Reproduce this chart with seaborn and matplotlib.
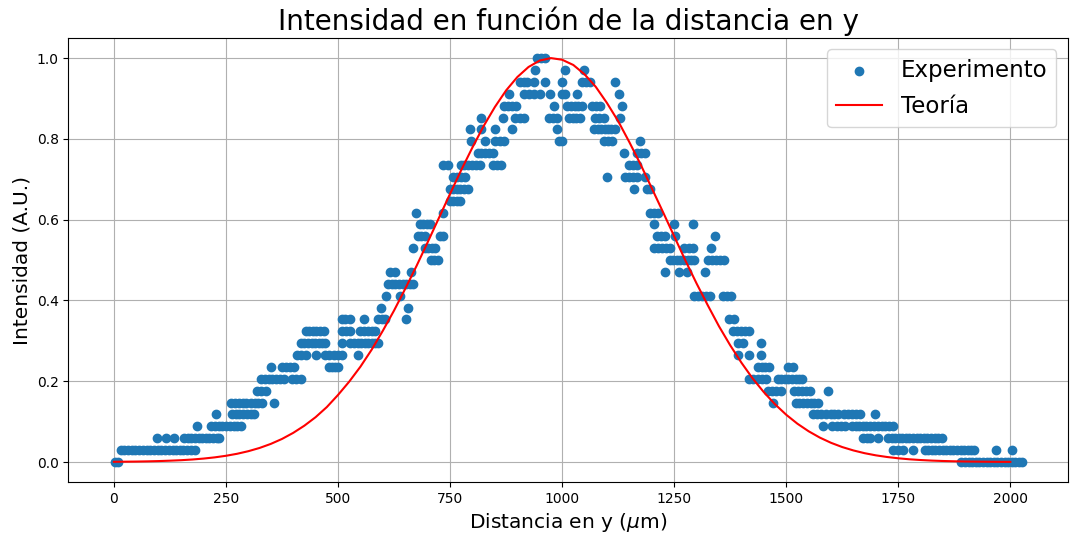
import pandas as pd
import matplotlib
matplotlib.use("Agg")
import matplotlib.pyplot as plt
import seaborn as sns

# Intensidad cuantizada en pasos de 1/34 (nivel k -> k/34)
N_NIVELES = 34

# posiciones (um) de los puntos experimentales por nivel, lado izquierdo del pico
x_izq = [
    [3, 10],
    [15, 23, 32, 40, 48, 56, 65, 73, 81, 89, 98, 106, 114, 122, 131, 139, 147, 155, 164, 172, 180],
    [97, 117, 135, 157, 165, 173, 181, 189, 197, 205, 213, 221, 229, 235],
    [186, 217, 225, 234, 242, 250, 259, 267, 275, 284],
    [228, 264, 272, 280, 289, 297, 305, 313],
    [262, 270, 279, 287, 295, 306, 314, 322, 330, 357],
    [319, 329, 339],
    [328, 336, 345, 353, 362, 370, 379, 397, 407, 417],
    [350, 375, 384, 392, 401, 479, 487, 494, 501],
    [408, 418, 428, 450, 472, 481, 490, 499, 508, 545],
    [417, 425, 433, 441, 449, 457, 465, 472, 508, 527, 535, 544, 552, 561, 568, 576, 583, 590],
    [428, 436, 444, 452, 460, 468, 508, 517, 527, 550, 558, 567, 575, 583],
    [508, 516, 527, 557, 590, 598, 605, 652],
    [597, 656],
    [608, 638],
    [612, 620, 628, 636, 644, 652, 660, 667],
    [616, 627, 663],
    [707, 715, 723],
    [667, 694, 701, 709, 716],
    [678, 686, 694, 727, 734],
    [683, 690, 698, 705],
    [674, 734],
    [749, 757, 765, 772],
    [749, 757, 765, 773, 781, 789],
    [756, 765, 774, 783],
    [734, 745, 774, 782, 791, 799, 808, 816, 845, 854, 863],
    [812, 820, 828, 837, 845],
    [796, 827, 851, 861, 871],
    [794, 818, 851, 889],
    [818, 867, 894, 905, 916, 971],
    [871, 879, 888, 896],
    [882, 916, 927, 938, 951, 974],
    [907, 915, 922, 938, 962],
    [940],
    [945, 953, 962],
]

# lado derecho del pico
x_der = [
    [1891, 1899, 1907, 1915, 1923, 1931, 1939, 1947, 1955, 1963, 1971, 1979, 1987, 1995, 2003, 2011, 2019, 2027],
    [1738, 1749, 1760, 1783, 1809, 1817, 1825, 1833, 1841, 1849, 1857, 1865, 1873, 1881, 1889, 1897, 1905,
     1913, 1920, 1969, 2004],
    [1672, 1680, 1687, 1705, 1727, 1735, 1743, 1751, 1759, 1767, 1775, 1783, 1791, 1799, 1807, 1815, 1823,
     1831, 1839, 1847],
    [1583, 1603, 1613, 1622, 1632, 1647, 1655, 1663, 1671, 1679, 1688, 1696, 1705, 1713, 1721, 1730, 1738],
    [1559, 1569, 1578, 1588, 1599, 1607, 1616, 1628, 1637, 1646, 1656, 1665, 1698],
    [1470, 1521, 1529, 1538, 1546, 1555, 1563, 1572],
    [1459, 1469, 1478, 1488, 1517, 1526, 1535, 1544, 1554, 1594],
    [1417, 1426, 1436, 1445, 1455, 1481, 1489, 1497, 1505, 1513, 1521, 1529, 1536],
    [1437, 1445, 1453, 1461, 1503, 1514],
    [1393, 1417, 1443],
    [1393, 1404, 1443],
    [1382, 1391, 1400, 1408, 1417],
    [1373, 1384],
    [],
    [1295, 1303, 1312, 1320, 1329, 1359, 1368, 1377],
    [],
    [1229, 1260, 1278, 1318],
    [1240, 1248, 1256, 1264, 1272, 1280, 1288, 1295, 1326, 1335, 1344, 1352, 1361],
    [1206, 1215, 1223, 1232, 1240, 1273, 1283, 1293, 1333],
    [1211, 1220, 1229, 1251, 1340],
    [1204, 1249, 1293],
    [1195, 1205, 1215],
    [],
    [1160, 1189, 1195],
    [1100, 1140, 1149, 1158, 1167, 1184],
    [1149, 1158, 1167],
    [1138, 1167, 1176, 1184],
    [993, 1000, 1093, 1102, 1111, 1173],
    [989, 1071, 1079, 1087, 1095, 1102, 1110, 1118],
    [980, 989, 1016, 1024, 1032, 1040, 1073, 1083, 1093, 1129],
    [982, 1011, 1019, 1028, 1036, 1044, 1067, 1076, 1084, 1134],
    [1000, 1007, 1033, 1127],
    [1000, 1044, 1053, 1062, 1118],
    [1007, 1049],
    [],
]

# curva teorica leida cada 25 um
x_teo = [0, 25, 50, 75, 100, 125, 150, 175, 200, 225, 250, 275, 300, 325, 350, 375, 400, 425, 450, 475,
         500, 525, 550, 575, 600, 625, 650, 675, 700, 725, 750, 775, 800, 825, 850, 875, 900, 925, 950, 975,
         1000, 1025, 1050, 1075, 1100, 1125, 1150, 1175, 1200, 1225, 1250, 1275, 1300, 1325, 1350, 1375,
         1400, 1425, 1450, 1475, 1500, 1525, 1550, 1575, 1600, 1625, 1650, 1675, 1700, 1725, 1750, 1775,
         1800, 1825, 1850, 1875, 1900, 1925, 1950, 1975, 2000]
y_teo = [0.0005, 0.0008, 0.0011, 0.0016, 0.0023, 0.0033, 0.0045, 0.0062, 0.0085, 0.0115, 0.0154, 0.0204,
         0.0268, 0.0348, 0.0448, 0.0571, 0.0721, 0.090, 0.111, 0.136, 0.166, 0.199, 0.236, 0.278, 0.325,
         0.375, 0.429, 0.485, 0.544, 0.604, 0.664, 0.723, 0.779, 0.832, 0.879, 0.920, 0.953, 0.978, 0.994,
         1.000, 0.996, 0.983, 0.960, 0.929, 0.889, 0.844, 0.792, 0.737, 0.678, 0.619, 0.559, 0.499, 0.442,
         0.388, 0.336, 0.289, 0.246, 0.207, 0.173, 0.143, 0.117, 0.0948, 0.0761, 0.0604, 0.0475, 0.0370,
         0.0286, 0.0218, 0.0165, 0.0124, 0.0092, 0.0067, 0.0049, 0.0035, 0.0025, 0.0018, 0.0012, 0.0009,
         0.0006, 0.0004, 0.0003]

filas = []
for lado in (x_izq, x_der):
    for nivel, xs in enumerate(lado):
        for x in xs:
            filas.append({"x": x, "I": nivel / N_NIVELES})
df_exp = pd.DataFrame(filas)
df_teo = pd.DataFrame({"x": x_teo, "I": y_teo})

fig, ax = plt.subplots(figsize=(10.7, 5.34), dpi=100)
fig.subplots_adjust(left=0.064, right=0.998, top=0.929, bottom=0.097)

sns.scatterplot(data=df_exp, x="x", y="I", ax=ax, color="#1f77b4", s=36,
                edgecolor="#1f77b4", linewidth=1, label="Experimento", zorder=2)
sns.lineplot(data=df_teo, x="x", y="I", ax=ax, color="red", linewidth=1.5,
             label="Teoría", zorder=3)

ax.grid(True)
ax.set_title("Intensidad en función de la distancia en y", fontsize=20)
ax.set_xlabel(r"Distancia en y ($\mu$m)", fontsize=14.5)
ax.set_ylabel("Intensidad (A.U.)", fontsize=14.5)
ax.legend(loc="upper right", fontsize=16.5, labelspacing=0.6)

fig.savefig("out.png", dpi=100)
